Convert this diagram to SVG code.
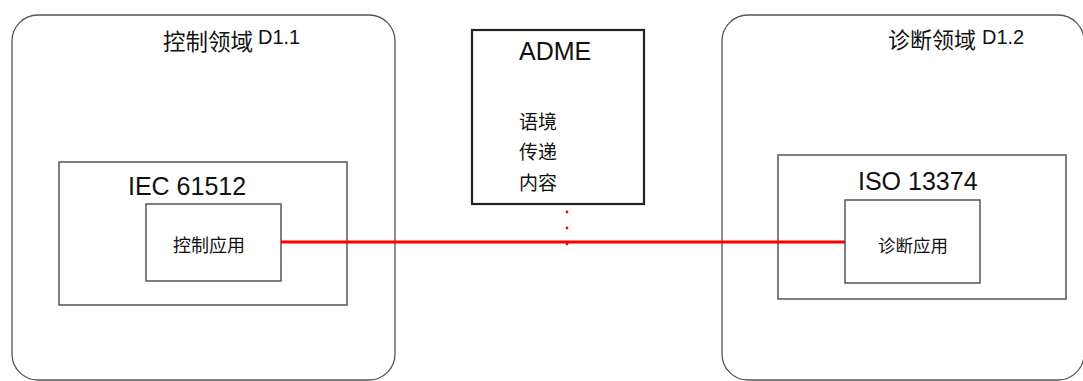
<svg xmlns="http://www.w3.org/2000/svg" width="1083" height="381" viewBox="0 0 1083 381">
<style>
.dom{fill:#fff;stroke:#555;stroke-width:1.3}
.box{fill:#fff;stroke:#555;stroke-width:1.5}
.adme{fill:#fff;stroke:#222;stroke-width:2.2}
.t{font-family:"Liberation Sans","Noto Sans CJK SC",sans-serif;fill:#111}
.cn{font-family:"Noto Sans CJK SC","Liberation Sans",sans-serif;fill:#111}
</style>
<rect width="1083" height="381" fill="#fff"/>
<g id="domain-control">
<rect class="dom" x="12" y="15" width="383" height="365" rx="26"/>
<text class="cn" x="163" y="50" font-size="22.5">控制领域</text>
<text class="t" x="258" y="44" font-size="20">D1.1</text>
</g>
<g id="domain-diag">
<rect class="dom" x="722" y="15" width="362" height="365" rx="26"/>
<text class="cn" x="888" y="48" font-size="22">诊断领域</text>
<text class="t" x="982" y="44" font-size="20">D1.2</text>
</g>
<g id="iec61512">
<rect class="box" x="59" y="162" width="288" height="143"/>
<text class="t" x="128" y="195" font-size="25">IEC 61512</text>
</g>
<g id="control-app">
<rect class="box" x="146" y="204" width="135" height="77"/>
<text class="cn" x="173" y="252" font-size="18">控制应用</text>
</g>
<g id="iso13374">
<rect class="box" x="778" y="155" width="288" height="144"/>
<text class="t" x="858" y="190" font-size="25">ISO 13374</text>
</g>
<g id="diag-app">
<rect class="box" x="845" y="200" width="135" height="83"/>
<text class="cn" x="878" y="252" font-size="17.5">诊断应用</text>
</g>
<g id="adme">
<rect class="adme" x="472" y="30" width="172" height="174"/>
<text class="t" x="519" y="60" font-size="25">ADME</text>
<text class="cn" x="519" y="129" font-size="19">语境</text>
<text class="cn" x="519" y="159" font-size="19">传递</text>
<text class="cn" x="519" y="190" font-size="19">内容</text>
</g>
<g id="connectors">
<line x1="281" y1="242" x2="845" y2="242" stroke="#f00" stroke-width="3"/>
<circle cx="567" cy="212" r="1.4" fill="#f00"/>
<circle cx="567" cy="228" r="1.4" fill="#f00"/>
<circle cx="567" cy="244" r="1.4" fill="#f00"/>
</g>
</svg>
